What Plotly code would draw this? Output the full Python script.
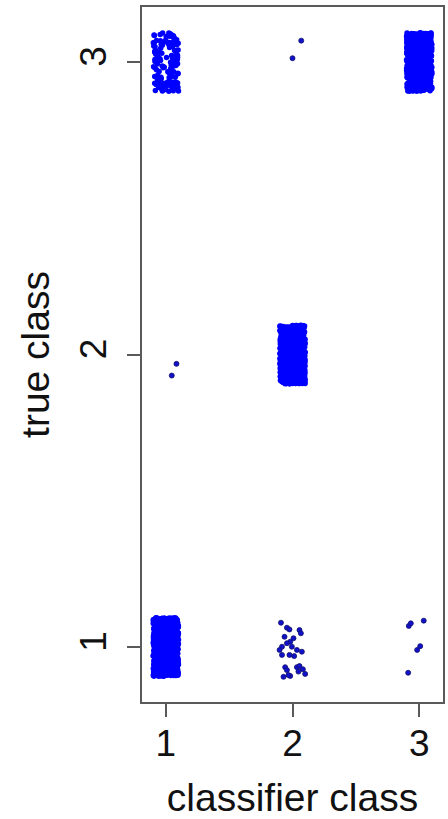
import numpy as np
import plotly.graph_objects as go

# Confusion-matrix cells (classifier class, true class, count) for the dense cells
dense_pred = [1, 2, 3, 1]
dense_true = [1, 2, 3, 3]
dense_count = [900, 850, 850, 140]

# Sparse cells: jittered points (data coordinates)
sparse_x = [1.909, 1.956, 1.976, 2.055, 2.066, 1.937, 2.008, 1.982, 1.956, 1.917,
            1.898, 1.995, 2.035, 2.074, 1.917, 1.976, 2.013, 1.942, 1.956, 2.035,
            2.055, 2.082, 2.100, 2.047, 1.982, 1.929, 1.968,
            2.918, 2.934, 3.036, 2.984, 3.008, 2.913,
            1.084, 1.047,
            2.069, 2.000]
sparse_y = [1.083, 1.066, 1.060, 1.058, 1.047, 1.035, 1.030, 1.018, 1.013, 1.001,
            0.990, 1.001, 0.990, 0.984, 0.973, 0.973, 0.969, 0.931, 0.921, 0.931,
            0.935, 0.924, 0.908, 0.916, 0.901, 0.898, 0.904,
            1.072, 1.081, 1.090, 0.990, 1.003, 0.912,
            1.968, 1.928,
            3.073, 3.013]

tick_vals = [1, 2, 3]
tick_text = ["1", "2", "3"]

# display jitter (like R's jitter()) for the dense cells
rng = np.random.default_rng(7)
JIT = 0.1
xs, ys = [], []
for p, t, n in zip(dense_pred, dense_true, dense_count):
    xs.append(p + rng.uniform(-JIT, JIT, n))
    ys.append(t + rng.uniform(-JIT, JIT, n))
x_dense = np.concatenate(xs)
y_dense = np.concatenate(ys)

FONT = "Liberation Sans, Arial, Helvetica, sans-serif"
fig = go.Figure()
fig.add_trace(go.Scatter(
    x=x_dense, y=y_dense, mode="markers",
    marker=dict(size=5.5, color="#0000FF", line=dict(width=0)),
    showlegend=False, hoverinfo="skip"))
fig.add_trace(go.Scatter(
    x=sparse_x, y=sparse_y, mode="markers",
    marker=dict(size=5, color="#1111CC", line=dict(width=0.8, color="#10106A")),
    showlegend=False, hoverinfo="skip"))

axis_common = dict(
    showgrid=False, zeroline=False, showline=True, mirror=True, automargin=False,
    linecolor="#5a5a5a", linewidth=1.5,
    ticks="outside", ticklen=13, tickwidth=1.5, tickcolor="#5a5a5a",
    tickvals=tick_vals, ticktext=tick_text,
    tickfont=dict(family=FONT, size=37, color="#111111"),
)
fig.update_xaxes(range=[0.812, 3.188], ticklabelstandoff=-5, **axis_common,
                 title=dict(text="classifier class", standoff=28,
                            font=dict(family=FONT, size=39, color="#111111")))
fig.update_yaxes(range=[0.812, 3.188], tickangle=-90, ticklabelstandoff=6, **axis_common,
                 title=dict(text="true class", standoff=12,
                            font=dict(family=FONT, size=39, color="#111111")))
fig.update_layout(
    width=448, height=819,
    margin=dict(l=142, r=5, t=7, b=117),
    paper_bgcolor="white", plot_bgcolor="white",
)
fig.write_html("out.html")
